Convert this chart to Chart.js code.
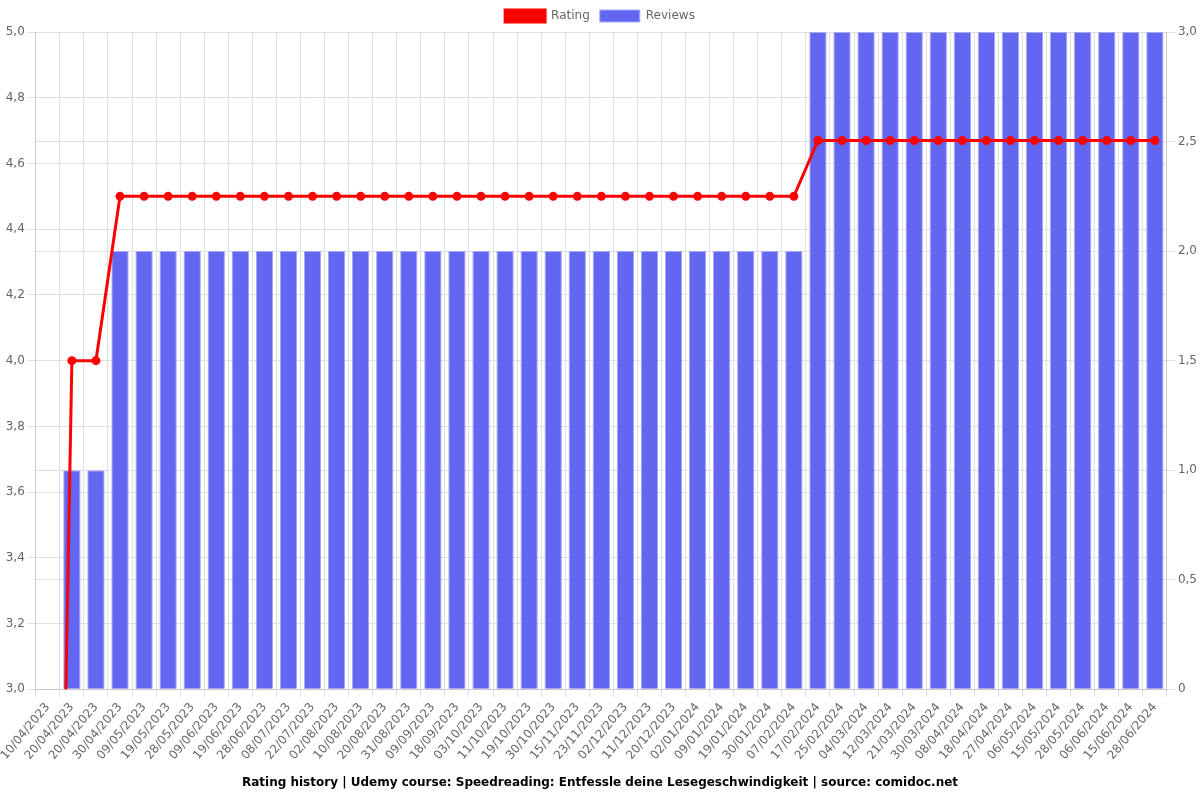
<!DOCTYPE html>
<html>
<head>
<meta charset="utf-8">
<script src="https://cdn.jsdelivr.net/npm/chart.js@4/dist/chart.umd.min.js"></script>
<style>
  html, body { margin: 0; padding: 0; background: #fff; }
  #wrap { width: 1200px; height: 800px; }
</style>
</head>
<body>
<div id="wrap"><canvas id="ratingChart"></canvas></div>
<script>
// chart data
const labels = ['10/04/2023', '20/04/2023', '20/04/2023', '30/04/2023', '09/05/2023', '19/05/2023', '28/05/2023', '09/06/2023', '19/06/2023', '28/06/2023', '08/07/2023', '22/07/2023', '02/08/2023', '10/08/2023', '20/08/2023', '31/08/2023', '09/09/2023', '18/09/2023', '03/10/2023', '11/10/2023', '19/10/2023', '30/10/2023', '15/11/2023', '23/11/2023', '02/12/2023', '11/12/2023', '20/12/2023', '02/01/2024', '09/01/2024', '19/01/2024', '30/01/2024', '07/02/2024', '17/02/2024', '25/02/2024', '04/03/2024', '12/03/2024', '21/03/2024', '30/03/2024', '08/04/2024', '18/04/2024', '27/04/2024', '06/05/2024', '15/05/2024', '28/05/2024', '06/06/2024', '15/06/2024', '28/06/2024'];

const ratings = [0, 4, 4,
    4.5, 4.5, 4.5, 4.5, 4.5, 4.5, 4.5, 4.5, 4.5, 4.5, 4.5, 4.5, 4.5, 4.5, 4.5,
    4.5, 4.5, 4.5, 4.5, 4.5, 4.5, 4.5, 4.5, 4.5, 4.5, 4.5, 4.5, 4.5, 4.5,
    4.67, 4.67, 4.67, 4.67, 4.67, 4.67, 4.67, 4.67, 4.67, 4.67, 4.67, 4.67, 4.67, 4.67, 4.67];

const reviews = [0, 1, 1,
    2, 2, 2, 2, 2, 2, 2, 2, 2, 2, 2, 2, 2, 2, 2,
    2, 2, 2, 2, 2, 2, 2, 2, 2, 2, 2, 2, 2, 2,
    3, 3, 3, 3, 3, 3, 3, 3, 3, 3, 3, 3, 3, 3, 3];

const titleText = 'Rating history | Udemy course: Speedreading: Entfessle deine Lesegeschwindigkeit | source: comidoc.net';

Chart.defaults.font.family = '"DejaVu Sans", sans-serif';
Chart.defaults.font.size = 12;
Chart.defaults.color = '#666';

const ctx = document.getElementById('ratingChart').getContext('2d');

new Chart(ctx, {
    type: 'bar',
    data: {
        labels: labels,
        datasets: [{
            type: 'line',
            label: 'Rating',
            data: ratings,
            yAxisID: 'y',
            borderColor: '#ff0000',
            backgroundColor: '#ff0000',
            borderWidth: 3,
            pointRadius: 3,
            pointBackgroundColor: '#ff0000',
            tension: 0
        }, {
            label: 'Reviews',
            data: reviews,
            yAxisID: 'y1',
            backgroundColor: '#6366f1',
            borderColor: '#a5a7f7',
            borderWidth: 1
        }]
    },
    options: {
        responsive: true,
        maintainAspectRatio: false,
        animation: false,
        locale: 'de-DE',
        plugins: {
            legend: {
                position: 'top',
                labels: { boxWidth: 40, boxHeight: 12 }
            },
            title: {
                display: true,
                text: titleText,
                position: 'bottom',
                color: '#000',
                font: { weight: 'bold', size: 12 },
                padding: 10
            },
            tooltip: { enabled: false }
        },
        scales: {
            x: {
                grid: { color: '#e0e0e0' },
                ticks: { maxRotation: 50, minRotation: 50, autoSkip: false }
            },
            y: {
                position: 'left',
                min: 3,
                max: 5,
                ticks: { stepSize: 0.2 },
                grid: { color: '#e0e0e0' }
            },
            y1: {
                position: 'right',
                min: 0,
                max: 3,
                ticks: { stepSize: 0.5 },
                grid: { color: '#e0e0e0' }
            }
        }
    }
});
</script>
</body>
</html>
